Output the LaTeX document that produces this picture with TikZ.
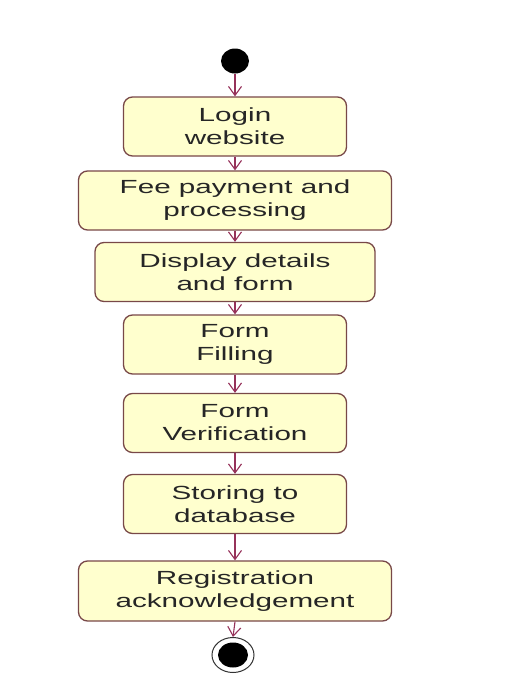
\documentclass[tikz,border=0pt]{standalone}
\usepackage{fontspec}
\setmainfont[FakeStretch=1.56]{Liberation Sans}
\usetikzlibrary{arrows.meta,shapes.geometric}
\definecolor{boxfill}{RGB}{255,255,206}
\definecolor{boxline}{RGB}{120,72,72}
\definecolor{arrowcol}{RGB}{150,50,90}
\begin{document}
\begin{tikzpicture}[x=1pt,y=-1pt,
  act/.style={draw=boxline,fill=boxfill,line width=1.3pt,rounded corners=9pt,
    align=center,inner sep=0pt,font=\fontsize{19}{23}\selectfont,text=black!85},
  flow/.style={draw=arrowcol,line width=1.1pt,-{Straight Barb[length=9pt,width=13pt,line width=1.1pt]}}]
\useasboundingbox (0,0) rectangle (505,681);
\fill[white] (0,0) rectangle (505,681);
\node[fill=black,ellipse,minimum width=28pt,minimum height=25pt,inner sep=0pt] (start) at (235,61) {};
\node[act,minimum width=223pt,minimum height=59pt] (b1) at (235,126.5) {Login\\website};
\node[act,minimum width=313pt,minimum height=59pt] (b2) at (235,200.5) {Fee payment and\\processing};
\node[act,minimum width=280pt,minimum height=59pt] (b3) at (235,272) {Display details\\and form};
\node[act,minimum width=223pt,minimum height=59pt] (b4) at (235,344.5) {Form\\Filling};
\node[act,minimum width=223pt,minimum height=59pt] (b5) at (235,423) {Form\\Verification};
\node[act,minimum width=223pt,minimum height=59pt] (b6) at (235,504) {Storing to\\database};
\node[act,minimum width=313pt,minimum height=60pt] (b7) at (235,591) {Registration\\acknowledgement};
\node[draw=black!80,line width=1pt,ellipse,minimum width=42pt,minimum height=35pt,inner sep=0pt] (end) at (233,655) {};
\fill[black] (end.center) ellipse [x radius=15pt,y radius=12.5pt];
\draw[flow] (start) -- (b1.north);
\draw[flow] (b1.south) -- (b2.north);
\draw[flow] (b2.south) -- (b3.north);
\draw[flow] (b3.south) -- (b4.north);
\draw[flow] (b4.south) -- (b5.north);
\draw[flow] (b5.south) -- (b6.north);
\draw[flow] (b6.south) -- (b7.north);
\draw[flow] (b7.south) -- (end.north);
\end{tikzpicture}
\end{document}
